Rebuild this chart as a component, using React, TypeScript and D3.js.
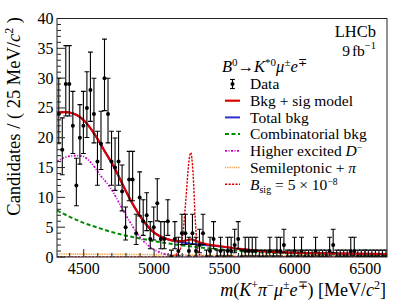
import React, { useEffect } from "react";
import * as d3 from "d3";

// ---------- data ----------
const massMin = 4310;
const massMax = 6655;
const binStart = 4310;
const binWidth = 25;
const yMax = 40;

const dataCounts = [
  24, 18, 29, 29, 22, 12, 20, 22, 25, 28,
  24, 16, 19, 30, 24, 16, 15, 16, 11, 5,
  13, 13, 4, 10, 6, 7, 3, 5, 9, 3,
  3, 6, 0, 3, 1, 4, 4, 1, 4, 1,
  2, 4, 0, 1, 3, 0, 1, 0, 1, 1,
  2, 3, 0, 1, 1, 1, 1, 0, 0, 0,
  1, 0, 1, 1, 2, 0, 0, 1, 0, 1,
  0, 0, 0, 1, 0, 0, 0, 1, 2, 0,
  0, 0, 0, 1, 1, 0, 0, 0, 0, 0,
  0, 0, 0, 0,
];

const xMajorTicks = [4500, 5000, 5500, 6000, 6500];
const yMajorTicks = [0, 5, 10, 15, 20, 25, 30, 35, 40];

const bkgSigMass = [4310, 4360, 4420, 4510, 4580, 4650, 4720, 4790, 4865, 4935, 5005, 5080, 5150, 5200, 5240, 5265, 5295, 5360, 5470, 5610, 5750, 5970, 6250, 6655];
const bkgSigVal = [24.2, 24.3, 24.1, 22.7, 20.5, 17.7, 14.9, 11.5, 8.2, 5.7, 4.0, 3.1, 2.7, 2.65, 2.85, 2.95, 2.7, 2.2, 1.8, 1.35, 1.0, 0.75, 0.6, 0.5];

const totalBkgMass = [4310, 4360, 4420, 4510, 4580, 4650, 4720, 4790, 4865, 4935, 5005, 5080, 5150, 5200, 5240, 5265, 5295, 5360, 5470, 5610, 5750, 5970, 6250, 6655];
const totalBkgVal = [24.2, 24.3, 24.1, 22.7, 20.5, 17.7, 14.9, 11.5, 8.2, 5.7, 4.0, 3.1, 2.65, 2.45, 2.3, 2.2, 2.15, 2.0, 1.75, 1.35, 1.0, 0.75, 0.6, 0.5];

const combMass = [4310, 4470, 4615, 4760, 4900, 5040, 5185, 5325, 5540, 5750, 6040, 6320, 6655];
const combVal = [7.8, 6.0, 4.8, 3.8, 3.1, 2.5, 2.0, 1.6, 1.15, 0.8, 0.55, 0.4, 0.3];

const higherDMass = [4310, 4365, 4440, 4490, 4545, 4615, 4690, 4760, 4830, 4900, 4970, 5040, 5115, 5185, 5260, 5330, 6655];
const higherDVal = [16.0, 16.7, 17.0, 16.9, 16.0, 13.8, 11.6, 8.7, 5.8, 3.3, 1.7, 0.8, 0.3, 0.1, 0.02, 0, 0];

const semilepMass = [4310, 4700, 5000, 5500, 6000, 6655];
const semilepVal = [0.5, 0.45, 0.4, 0.28, 0.2, 0.15];

const sigMass = [4310, 5100, 5155, 5185, 5205, 5227, 5245, 5260, 5277, 5291, 5305, 5326, 5362, 5420, 6655];
const sigVal = [0, 0, 0.4, 1.2, 4.0, 10, 15.5, 17.5, 14, 7, 2, 0.3, 0.05, 0, 0];

// ---------- layout ----------
const W = 407;
const H = 301;
const L = 57;
const R = 387;
const T = 18.5;
const B = 257;
const FONT = "'Liberation Serif', 'Times New Roman', serif";

const RED = "#dd0000";
const BLUE = "#2f2fd0";
const GREEN = "#008a00";
const MAGENTA = "#c400c4";
const ORANGE = "#f0a040";

function poissonLow(n: number) {
  if (n === 0) return 0;
  const t = 1 - 1 / (9 * n) - 1 / (3 * Math.sqrt(n));
  return n * t * t * t;
}
function poissonHigh(n: number) {
  if (n === 0) return 1.148;
  return n + 1 + Math.sqrt(n + 0.75);
}

export default function App() {
  useEffect(() => {
    document.body.style.margin = "0";
  }, []);

  const x = d3.scaleLinear().domain([massMin, massMax]).range([L, R]);
  const y = d3.scaleLinear().domain([0, yMax]).range([B, T]);

  const mkLine = (ms: number[], vs: number[]) =>
    d3
      .line<number>()
      .x((_, i) => x(ms[i]))
      .y((_, i) => y(vs[i]))
      .curve(d3.curveMonotoneX)(vs) || "";

  const xMinor = d3.range(4400, 6700, 100).filter((v) => v <= massMax);
  const yMinor = d3.range(0, yMax + 1, 1);

  const bins = dataCounts.map((n, i) => ({
    m: binStart + binWidth * (i + 0.5),
    n,
    lo: poissonLow(n),
    hi: poissonHigh(n),
  }));

  const legendX0 = 225;
  const legendX1 = 240;
  const legendTextX = 250;
  const rowY = (k: number) => 84 + 16.7 * k;

  const legendLines = [
    { k: 1, color: RED, dash: "", width: 2.2 },
    { k: 2, color: BLUE, dash: "", width: 2 },
    { k: 3, color: GREEN, dash: "4,2.5", width: 2 },
    { k: 4, color: MAGENTA, dash: "2,1.5,1,1.5", width: 1.7 },
    { k: 5, color: ORANGE, dash: "1,0.8", width: 1.6 },
    { k: 6, color: RED, dash: "2.2,1.3", width: 1.4 },
  ];

  return (
    <svg
      width={W}
      height={H}
      viewBox={`0 0 ${W} ${H}`}
      style={{ position: "absolute", left: 0, top: 0, display: "block", background: "#fff" }}
      fontFamily={FONT}
    >
      <defs>
        <clipPath id="plotClip">
          <rect x={L} y={T - 2} width={R - L} height={B - T + 2} />
        </clipPath>
      </defs>
      <rect x={0} y={0} width={W} height={H} fill="#fff" />

      {/* curves */}
      <g clipPath="url(#plotClip)" fill="none">
        <path d={mkLine(semilepMass, semilepVal)} stroke={ORANGE} strokeWidth={1.6} strokeDasharray="1,0.8" />
        <path d={mkLine(sigMass, sigVal)} stroke={RED} strokeWidth={1.4} strokeDasharray="2.2,1.3" />
        <path d={mkLine(combMass, combVal)} stroke={GREEN} strokeWidth={2} strokeDasharray="4,2.5" />
        <path d={mkLine(higherDMass, higherDVal)} stroke={MAGENTA} strokeWidth={1.7} strokeDasharray="2,1.5,1,1.5" />
        <path d={mkLine(totalBkgMass, totalBkgVal)} stroke={BLUE} strokeWidth={2} />
        <path d={mkLine(bkgSigMass, bkgSigVal)} stroke={RED} strokeWidth={2.2} />
      </g>

      {/* data */}
      <g clipPath="url(#plotClip)">
        {bins.map((b, i) => {
          const cx = x(b.m);
          return (
            <g key={i} stroke="#000" strokeWidth={1.1}>
              <line x1={cx} x2={cx} y1={y(b.lo)} y2={y(b.hi)} />
              <line x1={cx - 2.4} x2={cx + 2.4} y1={y(b.hi)} y2={y(b.hi)} />
              {b.n > 0 && <line x1={cx - 2.4} x2={cx + 2.4} y1={y(b.lo)} y2={y(b.lo)} />}
              <circle cx={cx} cy={y(b.n)} r={2} fill="#000" stroke="none" />
            </g>
          );
        })}
      </g>

      {/* frame */}
      <rect x={L} y={T} width={R - L} height={B - T} fill="none" stroke="#222" strokeWidth={1} />

      {/* ticks */}
      <g stroke="#222" strokeWidth={1}>
        {yMinor.map((v) => (
          <line key={"ym" + v} x1={L} x2={L + (v % 5 === 0 ? 8 : 4)} y1={y(v)} y2={y(v)} />
        ))}
        {xMinor.map((v) => (
          <line key={"xm" + v} x1={x(v)} x2={x(v)} y1={B} y2={B - (v % 500 === 0 ? 8 : 4)} />
        ))}
      </g>
      <g fontSize={16} fill="#000">
        {yMajorTicks.map((v) => (
          <text key={"yl" + v} x={L - 3.5} y={y(v) + 5.5} textAnchor="end">
            {v}
          </text>
        ))}
        {xMajorTicks.map((v) => (
          <text key={"xl" + v} x={x(v)} y={274} textAnchor="middle">
            {v}
          </text>
        ))}
      </g>

      {/* axis titles */}
      <text transform="translate(20,17) rotate(-90)" textAnchor="end" fontSize={18.5}>
        Candidates / ( 25 MeV/<tspan fontStyle="italic">c</tspan>
        <tspan dy={-7} fontSize={12}>2</tspan>
        <tspan dy={7}> )</tspan>
      </text>
      <text x={386} y={296} textAnchor="end" fontSize={18}>
        <tspan fontStyle="italic">m</tspan>(<tspan fontStyle="italic">K</tspan>
        <tspan dy={-7} fontSize={12}>+</tspan>
        <tspan dy={7} fontStyle="italic">π</tspan>
        <tspan dy={-7} fontSize={12}>−</tspan>
        <tspan dy={7} fontStyle="italic">μ</tspan>
        <tspan dy={-7} fontSize={12}>±</tspan>
        <tspan dy={7} fontStyle="italic">e</tspan>
        <tspan dy={-7} fontSize={12}>∓</tspan>
        <tspan dy={7}>) [MeV/</tspan>
        <tspan fontStyle="italic">c</tspan>
        <tspan dy={-7} fontSize={12}>2</tspan>
        <tspan dy={7}>]</tspan>
      </text>

      {/* LHCb labels */}
      <text x={376} y={37} textAnchor="end" fontSize={16.5}>LHCb</text>
      <text x={376} y={55.5} textAnchor="end" fontSize={15.5}>
        9<tspan dx={2}>fb</tspan>
        <tspan dy={-6.5} fontSize={10.5}>−1</tspan>
      </text>
      <text x={222} y={72} fontSize={16.5}>
        <tspan fontStyle="italic">B</tspan>
        <tspan dy={-6.5} fontSize={11}>0</tspan>
        <tspan dy={6.5}>→</tspan>
        <tspan fontStyle="italic">K</tspan>
        <tspan dy={-6.5} fontSize={11}>*0</tspan>
        <tspan dy={6.5} fontStyle="italic">μ</tspan>
        <tspan dy={-6.5} fontSize={11}>±</tspan>
        <tspan dy={6.5} fontStyle="italic">e</tspan>
        <tspan dy={-6.5} fontSize={11}>∓</tspan>
      </text>

      {/* legend */}
      <g>
        {(() => {
          const cy = rowY(0);
          const cx = (legendX0 + legendX1) / 2;
          return (
            <g stroke="#000" strokeWidth={1.1}>
              <line x1={cx} x2={cx} y1={cy - 4.5} y2={cy + 4.5} />
              <line x1={cx - 2.4} x2={cx + 2.4} y1={cy - 4.5} y2={cy - 4.5} />
              <line x1={cx - 2.4} x2={cx + 2.4} y1={cy + 4.5} y2={cy + 4.5} />
              <circle cx={cx} cy={cy} r={2} fill="#000" stroke="none" />
            </g>
          );
        })()}
        {legendLines.map((l) => (
          <line
            key={l.k}
            x1={legendX0}
            x2={legendX1}
            y1={rowY(l.k)}
            y2={rowY(l.k)}
            stroke={l.color}
            strokeWidth={l.width}
            strokeDasharray={l.dash || undefined}
          />
        ))}
        <g fontSize={15.5} fill="#000">
          <text x={legendTextX} y={rowY(0) + 5.3}>Data</text>
          <text x={legendTextX} y={rowY(1) + 5.3}>Bkg + sig model</text>
          <text x={legendTextX} y={rowY(2) + 5.3}>Total bkg</text>
          <text x={legendTextX} y={rowY(3) + 5.3}>Combinatorial bkg</text>
          <text x={legendTextX} y={rowY(4) + 5.3}>
            Higher excited <tspan fontStyle="italic">D</tspan>
            <tspan dy={-5} fontSize={9.5}>−</tspan>
          </text>
          <text x={legendTextX} y={rowY(5) + 5.3}>
            Semileptonic + <tspan fontStyle="italic">π</tspan>
          </text>
          <text x={legendTextX} y={rowY(6) + 5.3}>
            <tspan fontStyle="italic">B</tspan>
            <tspan dy={3.5} fontSize={10}>sig</tspan>
            <tspan dy={-3.5}> = 5 × 10</tspan>
            <tspan dy={-5} fontSize={9.5}>−8</tspan>
          </text>
        </g>
      </g>
    </svg>
  );
}
